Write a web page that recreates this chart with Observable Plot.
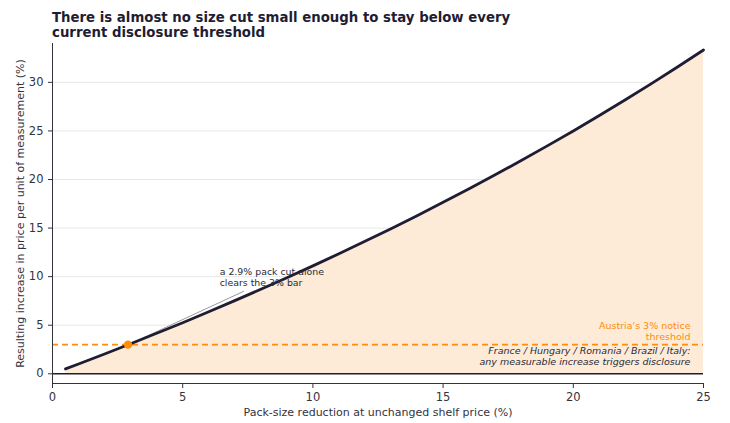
<!DOCTYPE html>
<html>
<head>
<meta charset="utf-8">
<script src="https://cdn.jsdelivr.net/npm/d3@7"></script>
<script src="https://cdn.jsdelivr.net/npm/@observablehq/plot@0.6"></script>
<style>
  body { margin: 0; background: #fff; font-family: "DejaVu Sans", sans-serif; }
  #title { font-family: "DejaVu Sans", sans-serif; font-weight: bold; font-size: 13.3px; line-height: 15px; color: #1f1d33; padding: 10px 0 0 52px; height: 30px; width: 640px; }
</style>
</head>
<body>
<div id="title">There is almost no size cut small enough to stay below every<br>current disclosure threshold</div>
<div id="chart"></div>
<script>
const cutPct = [0.5, 1, 2, 3, 4, 5, 6, 7, 8, 9, 10, 11, 12, 13, 14, 15, 16, 17, 18, 19, 20, 21, 22, 23, 24, 25];
const increasePct = [0.50, 1.01, 2.04, 3.09, 4.17, 5.26, 6.38, 7.53, 8.70, 9.89, 11.11, 12.36, 13.64, 14.94, 16.28, 17.65, 19.05, 20.48, 21.95, 23.46, 25.00, 26.58, 28.21, 29.87, 31.58, 33.33];
const austriaThreshold = 3;
const breakEvenCut = 2.9;
const xTicks = [0, 5, 10, 15, 20, 25];
const yTicks = [0, 5, 10, 15, 20, 25, 30];
const annotationText = "a 2.9% pack cut alone\nclears the 3% bar";
const austriaText = "Austria's 3% notice\nthreshold";
const zeroText = "France / Hungary / Romania / Brazil / Italy:\nany measurable increase triggers disclosure";

const data = cutPct.map((x, i) => ({x, y: increasePct[i]}));
const ink = "#1f1d33";
const axisInk = "#333340";
const orange = "#ff8c0a";

const chart = Plot.plot({
  width: 730,
  height: 383,
  marginTop: 3,
  marginLeft: 52,
  marginRight: 27,
  marginBottom: 40,
  style: {fontFamily: "DejaVu Sans, sans-serif", fontSize: "11px", color: "#333340", background: "#fff"},
  x: {domain: [0, 25]},
  y: {domain: [-1, 34]},
  marks: [
    Plot.gridY(yTicks.filter(d => d > 0), {stroke: "#e8e8e8", strokeOpacity: 1, strokeWidth: 1}),
    Plot.areaY(data, {x: "x", y1: 0, y2: "y", fill: "#fdebd7"}),
    Plot.ruleY([0], {stroke: ink, strokeWidth: 1.5}),
    Plot.ruleY([austriaThreshold], {stroke: orange, strokeWidth: 1.8, strokeDasharray: "6,4"}),
    Plot.link([{x1: 7.35, y1: 8.5, x2: breakEvenCut + 0.1, y2: austriaThreshold + 0.1}], {x1: "x1", y1: "y1", x2: "x2", y2: "y2", stroke: "#999", strokeWidth: 1}),
    Plot.line(data, {x: "x", y: "y", stroke: ink, strokeWidth: 2.8}),
    Plot.dot([{x: breakEvenCut, y: austriaThreshold}], {x: "x", y: "y", r: 4.2, fill: orange, stroke: "none"}),
    Plot.text([{x: 6.42, y: 10.0}], {x: "x", y: "y", text: () => annotationText, textAnchor: "start", lineAnchor: "middle", fontSize: 9.4, fill: "#2a2a3a", lineHeight: 1.2}),
    Plot.text([{x: 24.5, y: 4.45}], {x: "x", y: "y", text: () => austriaText, textAnchor: "end", lineAnchor: "middle", fontSize: 9.5, fill: orange, lineHeight: 1.15}),
    Plot.text([{x: 24.5, y: 1.8}], {x: "x", y: "y", text: () => zeroText, textAnchor: "end", lineAnchor: "middle", fontSize: 9.5, fontStyle: "italic", fill: "#2a2a3a", lineHeight: 1.15}),
    Plot.axisX({ticks: xTicks, tickSize: 5, stroke: axisInk, fontSize: 11.5, label: null}),
    Plot.axisX({ticks: [], tickSize: 0, label: "Pack-size reduction at unchanged shelf price (%)", labelAnchor: "center", labelArrow: "none", labelOffset: 32, fontSize: 11}),
    Plot.axisY({ticks: yTicks, tickSize: 4, stroke: axisInk, fontSize: 11.5, label: null}),
    Plot.axisY({ticks: [], tickSize: 0, label: "Resulting increase in price per unit of measurement (%)", labelAnchor: "center", labelArrow: "none", labelOffset: 36, fontSize: 11}),
    Plot.frame({anchor: "bottom", stroke: axisInk}),
    Plot.frame({anchor: "left", stroke: axisInk})
  ]
});
document.getElementById("chart").appendChild(chart);
</script>
</body>
</html>
